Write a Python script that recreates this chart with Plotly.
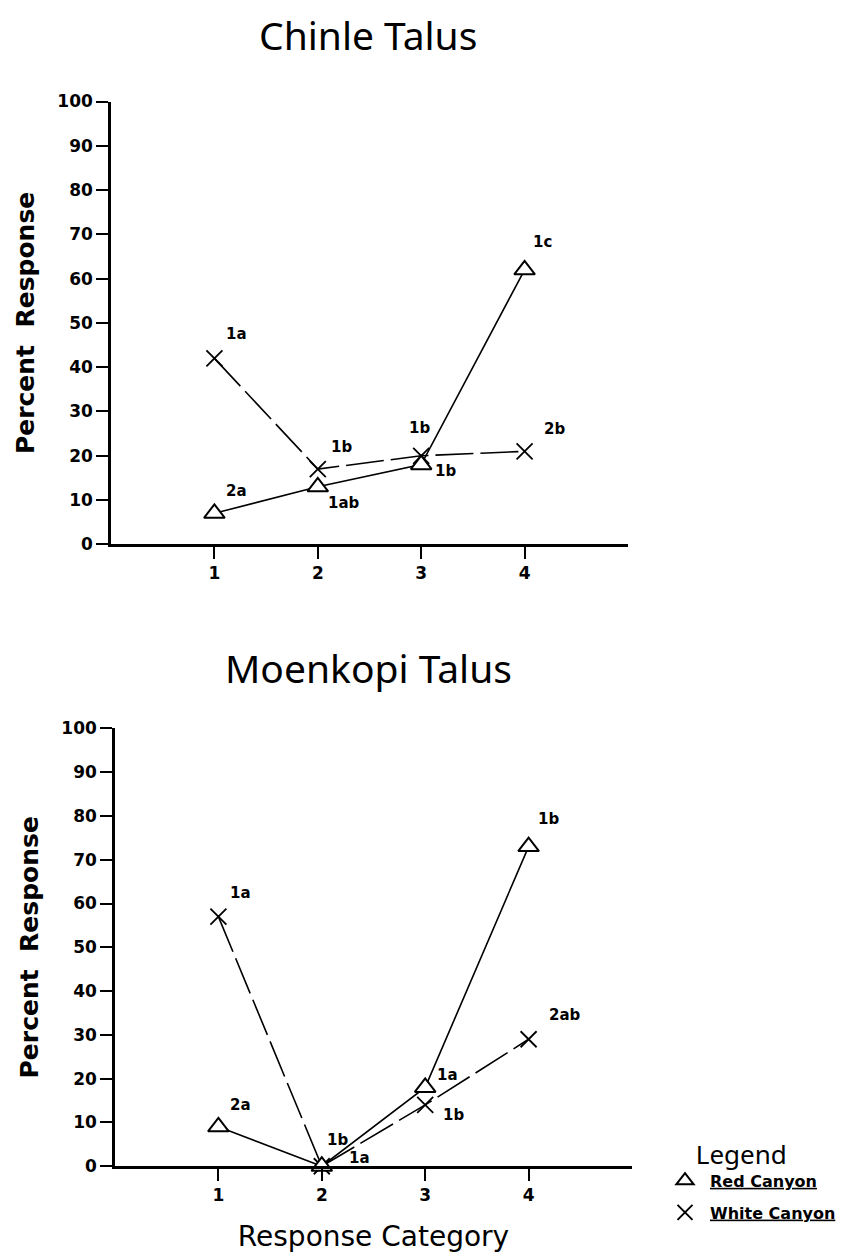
import plotly.graph_objects as go

# ---------------- data ----------------
categories = [1, 2, 3, 4]
y_ticks = [0, 10, 20, 30, 40, 50, 60, 70, 80, 90, 100]

chinle_red = [7, 13, 18, 62]
chinle_white = [42, 17, 20, 21]
chinle_red_labels = ["2a", "1ab", "1b", "1c"]
chinle_white_labels = ["1a", "1b", "1b", "2b"]

moenkopi_red = [9, 0, 18, 73]
moenkopi_white = [57, 0, 14, 29]
moenkopi_red_labels = ["2a", "1a", "1a", "1b"]
moenkopi_white_labels = ["1a", "1b", "1b", "2ab"]

panel_titles = ["Chinle Talus", "Moenkopi Talus"]
series_names = ["Red Canyon", "White Canyon"]

# ---------------- styling ----------------
W, H = 848, 1253
TICK_FONT = dict(family="DejaVu Sans", size=17, color="black", weight="bold")
LBL_FONT = dict(family="DejaVu Sans", size=15, color="black", weight="bold")

# label offsets (px) for each point's significance letters
chinle_red_off = [(22, 22), (26, -16), (24, -6), (18, 28)]
chinle_white_off = [(22, 24), (24, 22), (-2, 28), (30, 22)]
moenkopi_red_off = [(22, 22), (38, 8), (22, 12), (20, 28)]
moenkopi_white_off = [(22, 24), (16, 26), (28, -10), (36, 24)]


def px_dom_x(x0, x1):
    return [x0 / W, x1 / W]


def px_dom_y(top, bottom):
    return [(H - bottom) / H, (H - top) / H]


fig = go.Figure()

panels = [
    dict(xa="x", ya="y", red=chinle_red, white=chinle_white,
         rl=chinle_red_labels, wl=chinle_white_labels,
         ro=chinle_red_off, wo=chinle_white_off),
    dict(xa="x2", ya="y2", red=moenkopi_red, white=moenkopi_white,
         rl=moenkopi_red_labels, wl=moenkopi_white_labels,
         ro=moenkopi_red_off, wo=moenkopi_white_off),
]

annotations = []
for p in panels:
    # White Canyon: dashed line with X markers
    fig.add_trace(go.Scatter(
        x=categories, y=p["white"], xaxis=p["xa"], yaxis=p["ya"],
        mode="lines+markers", showlegend=False,
        line=dict(color="black", width=1.6, dash="38px,7px"),
        marker=dict(symbol="x-thin-open", size=16,
                    line=dict(color="black", width=1.8), color="black"),
        cliponaxis=False,
    ))
    # Red Canyon: solid line with open triangles
    fig.add_trace(go.Scatter(
        x=categories, y=p["red"], xaxis=p["xa"], yaxis=p["ya"],
        mode="lines+markers", showlegend=False,
        line=dict(color="black", width=1.6),
        marker=dict(symbol="triangle-up", size=18, color="white",
                    line=dict(color="black", width=2)),
        cliponaxis=False,
    ))
    for xs, ys, labs, offs in [(categories, p["red"], p["rl"], p["ro"]),
                               (categories, p["white"], p["wl"], p["wo"])]:
        for xv, yv, lab, (dx, dy) in zip(xs, ys, labs, offs):
            annotations.append(dict(
                x=xv, y=yv, xref=p["xa"], yref=p["ya"], text=lab,
                showarrow=False, xshift=dx, yshift=dy, font=LBL_FONT,
            ))

# legend-only traces
fig.add_trace(go.Scatter(
    x=[None], y=[None], mode="markers", legendgroup="r",
    name='<span style="text-decoration:underline">%s</span>' % series_names[0],
    marker=dict(symbol="triangle-up-open", size=15, color="black",
                line=dict(color="black", width=2)),
))
fig.add_trace(go.Scatter(
    x=[None], y=[None], mode="markers", legendgroup="w",
    name='<span style="text-decoration:underline">%s</span>' % series_names[1],
    marker=dict(symbol="x-thin-open", size=15, color="black",
                line=dict(color="black", width=2)),
))

# titles
for t, yc in zip(panel_titles, [25, 668]):
    annotations.append(dict(text=t, x=368 / W, y=(H - yc) / H,
                            xref="paper", yref="paper", showarrow=False,
                            xanchor="center", yanchor="middle",
                            font=dict(family="Noto Sans", size=39, color="black")))

common_x = dict(range=[0, 5], tickmode="array", tickvals=categories,
                ticktext=[str(c) for c in categories],
                showline=True, linecolor="black", linewidth=2.5,
                ticks="outside", ticklen=12, tickwidth=2, tickcolor="black",
                showgrid=False, zeroline=False, tickfont=TICK_FONT)
common_y = dict(range=[0, 100], tickmode="array", tickvals=y_ticks,
                showline=True, linecolor="black", linewidth=2.5,
                ticks="outside", ticklen=12, tickwidth=2, tickcolor="black",
                showgrid=False, zeroline=False, tickfont=TICK_FONT,
                title=dict(text="Percent&nbsp;&nbsp;Response",
                           font=dict(family="DejaVu Sans", size=25, color="black",
                                     weight="bold"),
                           standoff=16))

fig.update_layout(
    width=W, height=H,
    margin=dict(l=0, r=0, t=0, b=0),
    paper_bgcolor="white", plot_bgcolor="white",
    xaxis=dict(domain=px_dom_x(111, 628), anchor="y", **common_x),
    yaxis=dict(domain=px_dom_y(93, 543), anchor="x", **common_y),
    xaxis2=dict(domain=px_dom_x(115, 632), anchor="y2",
                title=dict(text="Response Category",
                           font=dict(family="DejaVu Sans", size=28, color="black"),
                           standoff=24),
                **common_x),
    yaxis2=dict(domain=px_dom_y(730, 1175), anchor="x2", **common_y),
    annotations=annotations,
    showlegend=True,
    legend=dict(
        x=660 / W, y=(H - 1138) / H, xanchor="left", yanchor="top",
        title=dict(text="&nbsp;&nbsp;&nbsp;&nbsp;&nbsp;Legend",
                   font=dict(family="Noto Sans", size=26, color="black",
                             weight="normal")),
        font=dict(family="DejaVu Sans", size=16, color="black", weight="bold"),
        bgcolor="rgba(0,0,0,0)", itemwidth=40, tracegroupgap=8,
    ),
)

fig.write_html("out.html")
